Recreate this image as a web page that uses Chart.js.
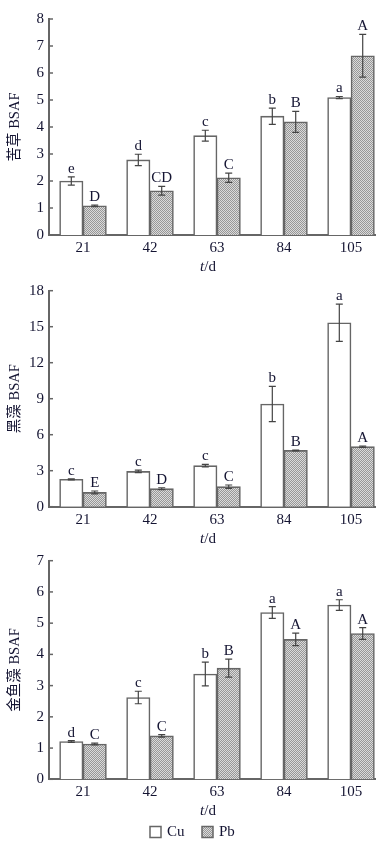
<!DOCTYPE html>
<html>
<head>
<meta charset="utf-8">
<script src="https://cdn.jsdelivr.net/npm/chart.js@4.4.1/dist/chart.umd.min.js"></script>
<style>
html, body { margin: 0; padding: 0; background: #fff; }
body { width: 384px; height: 844px; position: relative; overflow: hidden; }
canvas { position: absolute; left: 0; }
</style>
</head>
<body>
<canvas id="c1" width="384" height="275" style="top:0px"></canvas>
<canvas id="c2" width="384" height="270" style="top:275px"></canvas>
<canvas id="c3" width="384" height="299" style="top:545px"></canvas>
<script>
// data
const days = [21, 42, 63, 84, 105];
const seriesNames = ['Cu', 'Pb'];

// 苦草
const vallisCu = [2.0, 2.78, 3.68, 4.40, 5.09];
const vallisCuErr = [0.15, 0.21, 0.2, 0.30, 0.04];
const vallisPb = [1.08, 1.64, 2.12, 4.19, 6.64];
const vallisPbErr = [0.03, 0.16, 0.17, 0.39, 0.79];
const vallisCuSig = ['e', 'd', 'c', 'b', 'a'];
const vallisPbSig = ['D', 'CD', 'C', 'B', 'A'];
const vallisTicks = [0, 1, 2, 3, 4, 5, 6, 7, 8];

// 黑藻
const hydrCu = [2.28, 2.94, 3.42, 8.56, 15.33];
const hydrCuErr = [0.04, 0.1, 0.1, 1.47, 1.55];
const hydrPb = [1.19, 1.5, 1.67, 4.69, 5.0];
const hydrPbErr = [0.12, 0.08, 0.14, 0.03, 0.06];
const hydrCuSig = ['c', 'c', 'c', 'b', 'a'];
const hydrPbSig = ['E', 'D', 'C', 'B', 'A'];
const hydrTicks = [0, 3, 6, 9, 12, 15, 18];

// 金鱼藻
const cerCu = [1.21, 2.62, 3.37, 5.34, 5.58];
const cerCuErr = [0.03, 0.2, 0.38, 0.19, 0.17];
const cerPb = [1.13, 1.39, 3.56, 4.48, 4.67];
const cerPbErr = [0.03, 0.04, 0.29, 0.2, 0.19];
const cerCuSig = ['d', 'c', 'b', 'a', 'a'];
const cerPbSig = ['C', 'C', 'B', 'A', 'A'];
const cerTicks = [0, 1, 2, 3, 4, 5, 6, 7];

const textColor = '#141432';
const lineColor = '#666';
const serif = "'Liberation Serif', 'Times New Roman', serif";
const cjk = "'Liberation Serif', 'Noto Sans CJK SC', serif";

// checker fill for Pb
const pc = document.createElement('canvas');
pc.width = 2; pc.height = 2;
const pctx = pc.getContext('2d');
pctx.fillStyle = '#dadada';
pctx.fillRect(0, 0, 2, 2);
pctx.fillStyle = '#979797';
pctx.fillRect(0, 0, 1, 1);
pctx.fillRect(1, 1, 1, 1);
const pbFill = pctx.createPattern(pc, 'repeat');

// error bars, letters, inner ticks, x title, legend
const extras = {
  id: 'extras',
  afterDatasetsDraw(chart, args, o) {
    const ctx = chart.ctx;
    const y = chart.scales.y;
    ctx.save();
    ctx.strokeStyle = '#444';
    ctx.lineWidth = 1.2;
    ctx.fillStyle = textColor;
    ctx.font = '15px ' + serif;
    ctx.textAlign = 'center';
    ctx.textBaseline = 'alphabetic';
    chart.data.datasets.forEach((ds, i) => {
      const meta = chart.getDatasetMeta(i);
      meta.data.forEach((bar, j) => {
        const v = ds.data[j].y;
        const e = o.errs[i][j];
        const top = y.getPixelForValue(v + e);
        const bot = y.getPixelForValue(v - e);
        ctx.beginPath();
        ctx.moveTo(bar.x, top); ctx.lineTo(bar.x, bot);
        ctx.moveTo(bar.x - 3.5, top); ctx.lineTo(bar.x + 3.5, top);
        ctx.moveTo(bar.x - 3.5, bot); ctx.lineTo(bar.x + 3.5, bot);
        ctx.stroke();
        ctx.fillText(o.sigs[i][j], bar.x, top - 4);
      });
    });
    ctx.restore();
  },
  afterDraw(chart, args, o) {
    const ctx = chart.ctx;
    const a = chart.chartArea;
    const y = chart.scales.y;
    ctx.save();
    ctx.strokeStyle = lineColor;
    ctx.lineWidth = 1.5;
    y.ticks.forEach(t => {
      const py = y.getPixelForValue(t.value);
      ctx.beginPath();
      ctx.moveTo(a.left, py); ctx.lineTo(a.left + 4, py);
      ctx.stroke();
    });
    // x title: t/d
    ctx.fillStyle = textColor;
    ctx.textBaseline = 'middle';
    ctx.textAlign = 'left';
    const cx = (a.left + a.right) / 2 - 4;
    const ty = a.bottom + 32;
    ctx.font = 'italic 15px ' + serif;
    const w1 = ctx.measureText('t').width;
    ctx.font = '15px ' + serif;
    const w2 = ctx.measureText('/d').width;
    const sx = cx - (w1 + w2) / 2;
    ctx.font = 'italic 15px ' + serif;
    ctx.fillText('t', sx, ty);
    ctx.font = '15px ' + serif;
    ctx.fillText('/d', sx + w1, ty);
    if (o.legend) {
      const ly = chart.height - 12;
      const items = [{ x: 150, fill: '#fff' }, { x: 202, fill: pbFill }];
      items.forEach((it, k) => {
        ctx.fillStyle = it.fill;
        ctx.fillRect(it.x, ly - 5.5, 11, 11);
        ctx.strokeStyle = lineColor;
        ctx.lineWidth = 1.5;
        ctx.strokeRect(it.x, ly - 5.5, 11, 11);
        ctx.fillStyle = textColor;
        ctx.font = '15px ' + serif;
        ctx.fillText(seriesNames[k], it.x + 17, ly);
      });
    }
    ctx.restore();
  }
};

function makeChart(id, c) {
  const pts = arr => arr.map((v, i) => ({ x: days[i], y: v }));
  return new Chart(document.getElementById(id), {
    type: 'bar',
    data: {
      datasets: [
        { label: seriesNames[0], data: pts(c.cu), backgroundColor: '#fff',
          borderColor: lineColor, borderWidth: 1.6, barThickness: 23.4 },
        { label: seriesNames[1], data: pts(c.pb), backgroundColor: pbFill,
          borderColor: lineColor, borderWidth: 1.6, barThickness: 23.4 }
      ]
    },
    options: {
      responsive: false,
      animation: false,
      layout: { padding: { top: c.padTop, right: 9, left: 0, bottom: c.padBottom } },
      plugins: {
        legend: { display: false },
        tooltip: { enabled: false },
        extras: { errs: [c.cuErr, c.pbErr], sigs: [c.cuSig, c.pbSig], legend: c.legend }
      },
      scales: {
        x: {
          type: 'linear',
          offset: false,
          min: 10.34,
          max: 112.52,
          afterBuildTicks: s => { s.ticks = days.map(v => ({ value: v })); },
          afterFit: s => { s.height = c.xAxisH; },
          grid: { display: false, drawTicks: false, offset: false },
          border: { display: true, color: lineColor, width: 2 },
          ticks: { color: textColor, font: { family: serif, size: 15 }, padding: 4,
                   maxRotation: 0, autoSkip: false, callback: v => String(v) }
        },
        y: {
          min: c.yTicks[0],
          max: c.yTicks[c.yTicks.length - 1],
          afterBuildTicks: s => { s.ticks = c.yTicks.map(v => ({ value: v })); },
          afterFit: s => { s.width = 49; },
          grid: { display: false, drawTicks: false },
          border: { display: true, color: lineColor, width: 2 },
          ticks: { color: textColor, font: { family: serif, size: 15 }, padding: 5 },
          title: { display: true, text: c.title, color: textColor,
                   font: { family: cjk, size: 14.5 }, padding: { top: 6.3, bottom: 0 } }
        }
      }
    },
    plugins: [extras]
  });
}

makeChart('c1', { cu: vallisCu, cuErr: vallisCuErr, pb: vallisPb, pbErr: vallisPbErr,
  cuSig: vallisCuSig, pbSig: vallisPbSig, yTicks: vallisTicks, title: '苦草 BSAF',
  padTop: 19, padBottom: 0, xAxisH: 40, legend: false });
makeChart('c2', { cu: hydrCu, cuErr: hydrCuErr, pb: hydrPb, pbErr: hydrPbErr,
  cuSig: hydrCuSig, pbSig: hydrPbSig, yTicks: hydrTicks, title: '黑藻 BSAF',
  padTop: 15.7, padBottom: 0, xAxisH: 38.3, legend: false });
makeChart('c3', { cu: cerCu, cuErr: cerCuErr, pb: cerPb, pbErr: cerPbErr,
  cuSig: cerCuSig, pbSig: cerPbSig, yTicks: cerTicks, title: '金鱼藻 BSAF',
  padTop: 15.7, padBottom: 24.7, xAxisH: 40, legend: true });
</script>
</body>
</html>
